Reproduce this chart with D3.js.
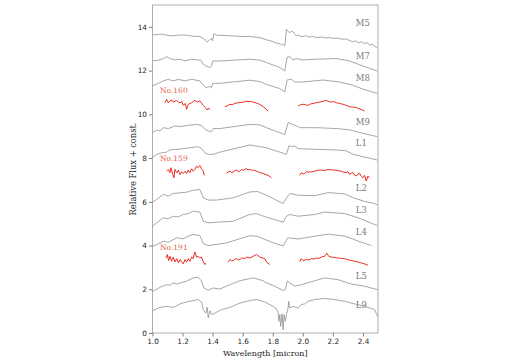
<!DOCTYPE html>
<html>
<head>
<meta charset="utf-8">
<script src="https://cdn.jsdelivr.net/npm/d3@7"></script>
<style>
  body { margin: 0; background: #fff; }
  svg { display: block; }
</style>
</head>
<body>
<div id="chart"></div>
<script>
// ticks
let xTicks = [1.0, 1.2, 1.4, 1.6, 1.8, 2.0, 2.2, 2.4];
let yTicks = [0, 2, 4, 6, 8, 10, 12, 14];

// template spectra, [wavelength, flux + offset]
let m5 = [[1.00,13.63],[1.04,13.66],[1.072,13.66],[1.10,13.61],[1.138,13.59],[1.18,13.63],[1.227,13.62],[1.27,13.57],[1.315,13.56],
  [1.335,13.48],[1.349,13.41],[1.364,13.31],[1.372,13.37],[1.382,13.41],[1.393,13.47],[1.400,13.36],[1.408,13.69],[1.426,13.62],
  [1.50,13.60],[1.60,13.56],[1.647,13.56],[1.714,13.51],[1.758,13.41],[1.80,13.33],[1.82,13.28],[1.835,13.22],[1.847,13.25],
  [1.86,13.16],[1.87,13.20],[1.880,13.13],[1.891,13.89],[1.90,13.80],[1.913,13.74],[1.925,13.80],[1.935,13.78],[1.945,13.66],
  [1.957,13.59],[1.97,13.63],[1.985,13.57],[2.002,13.56],[2.02,13.60],[2.04,13.53],[2.06,13.57],[2.09,13.51],[2.12,13.54],
  [2.15,13.49],[2.18,13.51],[2.20,13.47],[2.23,13.49],[2.26,13.44],[2.289,13.44],[2.31,13.38],[2.334,13.31],[2.35,13.36],
  [2.37,13.27],[2.39,13.32],[2.41,13.24],[2.43,13.28],[2.444,13.16],[2.46,13.21],[2.48,13.10],[2.495,13.05]];
let m7 = [[1.00,12.44],[1.04,12.48],[1.072,12.55],[1.094,12.64],[1.116,12.55],[1.149,12.49],[1.183,12.52],[1.216,12.44],[1.26,12.52],
  [1.322,12.47],[1.338,12.29],[1.355,12.21],[1.382,12.14],[1.393,12.21],[1.400,12.44],[1.448,12.44],[1.647,12.52],[1.714,12.48],
  [1.758,12.37],[1.847,12.14],[1.880,11.98],[1.895,12.60],[1.913,12.64],[1.935,12.49],[1.957,12.55],[2.002,12.49],[2.09,12.52],
  [2.223,12.55],[2.311,12.44],[2.40,12.21],[2.495,11.98]];
let m8 = [[1.00,11.30],[1.039,11.42],[1.072,11.53],[1.105,11.60],[1.138,11.53],[1.172,11.60],[1.216,11.53],[1.26,11.60],[1.315,11.53],
  [1.333,11.37],[1.355,11.22],[1.382,11.27],[1.393,11.22],[1.400,11.42],[1.448,11.42],[1.647,11.56],[1.714,11.50],[1.758,11.37],
  [1.847,11.18],[1.880,11.02],[1.895,11.57],[1.924,11.60],[1.946,11.48],[2.002,11.48],[2.134,11.57],[2.245,11.48],[2.334,11.33],
  [2.40,11.15],[2.495,10.96]];
let m9 = [[1.00,9.16],[1.028,9.28],[1.05,9.24],[1.072,9.39],[1.105,9.35],[1.149,9.47],[1.183,9.44],[1.227,9.49],[1.293,9.54],
  [1.327,9.49],[1.349,9.31],[1.371,9.24],[1.393,9.21],[1.404,9.35],[1.448,9.35],[1.647,9.54],[1.714,9.52],[1.758,9.39],
  [1.847,9.16],[1.880,9.08],[1.902,9.62],[1.957,9.47],[1.979,9.39],[2.09,9.39],[2.223,9.35],[2.311,9.29],[2.40,9.13],[2.495,8.98]];
let l1 = [[1.00,8.02],[1.028,8.17],[1.061,8.24],[1.094,8.27],[1.116,8.37],[1.161,8.40],[1.205,8.43],[1.249,8.47],[1.304,8.52],
  [1.327,8.43],[1.349,8.24],[1.371,8.17],[1.404,8.17],[1.448,8.27],[1.647,8.60],[1.714,8.52],[1.758,8.47],[1.847,8.27],
  [1.891,8.17],[1.909,8.58],[1.924,8.52],[1.946,8.55],[1.968,8.43],[2.09,8.40],[2.223,8.37],[2.289,8.33],[2.334,8.17],[2.495,7.91]];
let l2 = [[1.00,5.98],[1.028,6.11],[1.072,6.34],[1.105,6.26],[1.138,6.38],[1.183,6.41],[1.227,6.44],[1.271,6.53],[1.315,6.56],
  [1.338,6.18],[1.371,6.08],[1.426,6.08],[1.537,6.18],[1.647,6.45],[1.70,6.47],[1.758,6.30],[1.81,6.12],[1.869,5.92],
  [1.891,6.18],[1.913,6.38],[1.968,6.30],[2.079,6.28],[2.168,6.42],[2.278,6.36],[2.345,6.16],[2.411,6.02],[2.477,5.92],[2.495,5.86]];
let l3 = [[1.00,4.88],[1.028,5.04],[1.072,5.27],[1.105,5.22],[1.138,5.34],[1.172,5.31],[1.205,5.42],[1.238,5.46],[1.271,5.57],
  [1.315,5.53],[1.338,5.11],[1.371,5.04],[1.537,5.11],[1.647,5.42],[1.692,5.46],[1.747,5.32],[1.813,5.19],[1.869,5.07],
  [1.891,5.34],[1.913,5.42],[1.968,5.34],[2.079,5.42],[2.145,5.53],[2.278,5.46],[2.367,5.27],[2.477,4.96],[2.495,4.92]];
let l4 = [[1.00,3.97],[1.028,4.04],[1.072,4.20],[1.105,4.15],[1.161,4.35],[1.205,4.31],[1.238,4.43],[1.271,4.50],[1.315,4.46],
  [1.338,4.09],[1.371,4.00],[1.492,4.12],[1.647,4.45],[1.70,4.42],[1.747,4.28],[1.80,4.13],[1.85,4.02],[1.869,3.98],
  [1.90,4.35],[1.93,4.33],[1.97,4.30],[2.08,4.43],[2.17,4.52],[2.28,4.43],[2.37,4.20],[2.455,4.00]];
let l5 = [[1.00,1.91],[1.017,1.96],[1.05,2.09],[1.094,2.21],[1.116,2.18],[1.138,2.29],[1.161,2.24],[1.183,2.29],[1.227,2.37],
  [1.271,2.52],[1.304,2.55],[1.326,2.37],[1.342,2.06],[1.371,1.96],[1.404,2.06],[1.448,2.01],[1.515,2.21],[1.581,2.39],
  [1.67,2.52],[1.736,2.39],[1.747,2.33],[1.813,2.14],[1.869,1.94],[1.884,1.99],[1.897,2.37],[1.913,2.29],[1.946,2.14],
  [1.99,2.21],[2.079,2.39],[2.145,2.52],[2.234,2.44],[2.322,2.24],[2.411,2.14],[2.497,1.98]];
let l9 = [[1.00,1.02],[1.05,1.17],[1.094,1.22],[1.138,1.17],[1.183,1.33],[1.227,1.42],[1.271,1.48],[1.304,1.53],[1.326,1.42],
  [1.338,1.07],[1.355,0.91],[1.364,1.17],[1.371,0.69],[1.382,1.02],[1.393,0.84],[1.415,0.91],[1.459,1.07],[1.515,1.17],
  [1.581,1.37],[1.647,1.48],[1.692,1.53],[1.747,1.42],[1.802,1.22],[1.824,1.11],[1.836,0.91],[1.840,0.53],[1.847,0.84],
  [1.853,0.30],[1.862,0.87],[1.869,0.15],[1.875,0.84],[1.884,0.53],[1.891,0.84],[1.902,1.14],[1.906,1.45],[1.913,1.14],
  [1.935,1.22],[1.968,1.14],[1.99,1.30],[2.013,1.33],[2.035,1.45],[2.079,1.53],[2.145,1.58],[2.212,1.53],[2.278,1.45],
  [2.345,1.33],[2.411,1.22],[2.477,1.07],[2.497,0.76]];

let templates = [m5, m7, m8, m9, l1, l2, l3, l4, l5, l9];
let templateNames = ["M5", "M7", "M8", "M9", "L1", "L2", "L3", "L4", "L5", "L9"];
let templateLabelY = [14.17, 12.66, 11.65, 9.63, 8.67, 6.63, 5.62, 4.61, 2.60, 1.30];

// observed objects, three bands each
let no160 = [
  [[1.083,10.53],[1.094,10.69],[1.105,10.53],[1.116,10.61],[1.127,10.66],[1.138,10.56],[1.15,10.60],[1.161,10.64],[1.172,10.55],
   [1.183,10.53],[1.195,10.58],[1.205,10.41],[1.218,10.50],[1.227,10.23],[1.238,10.46],[1.26,10.53],[1.27,10.58],[1.282,10.64],
   [1.298,10.56],[1.315,10.61],[1.325,10.52],[1.338,10.41],[1.351,10.31],[1.364,10.20],[1.373,10.29],[1.382,10.20]],
  [[1.481,10.35],[1.50,10.40],[1.515,10.46],[1.53,10.44],[1.548,10.50],[1.57,10.53],[1.603,10.56],[1.63,10.60],[1.659,10.58],
   [1.69,10.52],[1.714,10.45],[1.74,10.33],[1.769,10.15]],
  [[1.968,10.38],[1.985,10.44],[2.002,10.46],[2.02,10.43],[2.035,10.41],[2.05,10.47],[2.068,10.50],[2.09,10.53],[2.112,10.56],
   [2.135,10.60],[2.156,10.64],[2.17,10.59],[2.19,10.56],[2.205,10.58],[2.223,10.53],[2.245,10.50],[2.267,10.46],[2.29,10.41],
   [2.311,10.35],[2.335,10.33],[2.356,10.31],[2.38,10.24],[2.395,10.20],[2.411,10.15]]
];
let no159 = [
  [[1.094,7.40],[1.105,7.48],[1.116,7.33],[1.123,7.56],[1.134,7.25],[1.143,7.10],[1.149,7.48],[1.161,7.33],[1.172,7.45],
   [1.183,7.25],[1.194,7.36],[1.205,7.30],[1.216,7.40],[1.227,7.30],[1.238,7.45],[1.249,7.33],[1.26,7.51],[1.271,7.40],
   [1.282,7.48],[1.293,7.63],[1.304,7.56],[1.315,7.66],[1.326,7.51],[1.338,7.40],[1.344,7.21]],
  [[1.492,7.30],[1.503,7.36],[1.515,7.40],[1.526,7.34],[1.537,7.36],[1.548,7.42],[1.559,7.45],[1.57,7.39],[1.581,7.40],
   [1.592,7.47],[1.603,7.45],[1.614,7.49],[1.625,7.51],[1.636,7.46],[1.647,7.48],[1.66,7.44],[1.67,7.45],[1.692,7.40],
   [1.714,7.33],[1.736,7.30],[1.755,7.24],[1.769,7.21],[1.791,7.10]],
  [[1.979,7.21],[1.99,7.33],[2.002,7.27],[2.013,7.30],[2.024,7.38],[2.035,7.36],[2.057,7.37],[2.079,7.40],[2.10,7.44],
   [2.123,7.45],[2.145,7.43],[2.168,7.48],[2.19,7.46],[2.212,7.45],[2.234,7.42],[2.256,7.40],[2.27,7.36],[2.289,7.33],
   [2.30,7.38],[2.311,7.25],[2.322,7.31],[2.334,7.33],[2.345,7.22],[2.356,7.18],[2.367,7.27],[2.378,7.30],[2.39,7.16],
   [2.40,7.10],[2.411,7.21],[2.422,6.95],[2.433,7.18],[2.444,7.10]]
];
let no191 = [
  [[1.090,3.43],[1.099,3.59],[1.107,3.31],[1.116,3.51],[1.127,3.28],[1.138,3.47],[1.149,3.25],[1.161,3.40],[1.172,3.21],
   [1.183,3.36],[1.194,3.25],[1.205,3.16],[1.216,3.36],[1.227,3.25],[1.238,3.40],[1.249,3.28],[1.26,3.47],[1.271,3.40],
   [1.282,3.70],[1.293,3.47],[1.304,3.51],[1.315,3.43],[1.326,3.47],[1.338,3.25],[1.349,3.13],[1.353,3.20]],
  [[1.504,3.25],[1.515,3.36],[1.526,3.30],[1.537,3.31],[1.548,3.37],[1.559,3.40],[1.57,3.35],[1.581,3.36],[1.592,3.42],
   [1.603,3.43],[1.614,3.40],[1.625,3.47],[1.647,3.43],[1.67,3.51],[1.692,3.59],[1.714,3.47],[1.747,3.40],[1.758,3.25],[1.78,3.13]],
  [[1.979,3.25],[1.99,3.40],[2.002,3.31],[2.024,3.36],[2.04,3.34],[2.057,3.40],[2.075,3.38],[2.09,3.43],[2.105,3.41],
   [2.123,3.47],[2.145,3.51],[2.159,3.65],[2.172,3.51],[2.19,3.47],[2.21,3.45],[2.234,3.43],[2.256,3.41],[2.278,3.40],
   [2.30,3.35],[2.322,3.31],[2.345,3.28],[2.367,3.25],[2.39,3.20],[2.411,3.16],[2.433,3.10]]
];
let objects = [no160, no159, no191];
let objectNames = ["No.160", "No.159", "No.191"];
let objectLabelY = [11.08, 8.00, 3.90];

// SVG setup
let svgWidth = 512;
let svgHeight = 363;
let margin = { top: 5, right: 134, bottom: 30, left: 152.5 };
let chartWidth = svgWidth - margin.left - margin.right;
let chartHeight = svgHeight - margin.top - margin.bottom;

let svg = d3.select("#chart")
  .append("svg")
  .attr("width", svgWidth)
  .attr("height", svgHeight);
let chartGroup = svg.append("g")
  .attr("transform", `translate(${margin.left}, ${margin.top})`);

let xScale = d3.scaleLinear().domain([1.0, 2.5]).range([0, chartWidth]);
let yScale = d3.scaleLinear().domain([0, 15]).range([chartHeight, 0]);

let line = d3.line()
  .x(d => xScale(d[0]))
  .y(d => yScale(d[1]));

// gray template spectra
templates.forEach(function(spec) {
  chartGroup.append("path")
    .attr("d", line(spec))
    .attr("fill", "none")
    .attr("stroke", "#8a8a8a")
    .attr("stroke-width", 0.75);
});

// red observed spectra
objects.forEach(function(segs) {
  segs.forEach(function(seg) {
    chartGroup.append("path")
      .attr("d", line(seg))
      .attr("fill", "none")
      .attr("stroke", "#e8160c")
      .attr("stroke-width", 0.9);
  });
});

// labels
templateNames.forEach(function(name, i) {
  chartGroup.append("text")
    .attr("x", xScale(2.352))
    .attr("y", yScale(templateLabelY[i]))
    .attr("dy", "0.36em")
    .attr("font-family", "DejaVu Serif")
    .attr("font-size", "8.5px")
    .attr("fill", "#7a7a7a")
    .text(name);
});
objectNames.forEach(function(name, i) {
  chartGroup.append("text")
    .attr("x", xScale(1.05))
    .attr("y", yScale(objectLabelY[i]))
    .attr("dy", "0.36em")
    .attr("font-family", "DejaVu Serif")
    .attr("font-size", "7.5px")
    .attr("fill", "#e8604c")
    .text(name);
});

// axes
let bottomAxis = d3.axisBottom(xScale).tickValues(xTicks).tickFormat(d3.format(".1f")).tickSize(3.5).tickPadding(2);
let leftAxis = d3.axisLeft(yScale).tickValues(yTicks).tickSize(3.5).tickPadding(2);

let xg = chartGroup.append("g")
  .attr("transform", `translate(0, ${chartHeight})`)
  .call(bottomAxis);
let yg = chartGroup.append("g")
  .call(leftAxis);
[xg, yg].forEach(function(g) {
  g.select(".domain").remove();
  g.selectAll("line").attr("stroke", "#444").attr("stroke-width", 0.7);
  g.selectAll("text").attr("font-family", "DejaVu Sans").attr("font-size", "7.3px").attr("fill", "#222");
});

// frame
chartGroup.append("rect")
  .attr("width", chartWidth)
  .attr("height", chartHeight)
  .attr("fill", "none")
  .attr("stroke", "#999")
  .attr("stroke-width", 0.8);

// axis labels
svg.append("text")
  .attr("transform", `translate(${margin.left + chartWidth / 2}, 356)`)
  .attr("text-anchor", "middle")
  .attr("font-family", "DejaVu Serif")
  .attr("font-size", "8px")
  .attr("fill", "#222")
  .text("Wavelength [micron]");
svg.append("text")
  .attr("transform", `translate(135.5, ${margin.top + chartHeight / 2}) rotate(-90)`)
  .attr("text-anchor", "middle")
  .attr("font-family", "DejaVu Serif")
  .attr("font-size", "8.3px")
  .attr("fill", "#222")
  .text("Relative Flux + const.");
</script>
</body>
</html>
